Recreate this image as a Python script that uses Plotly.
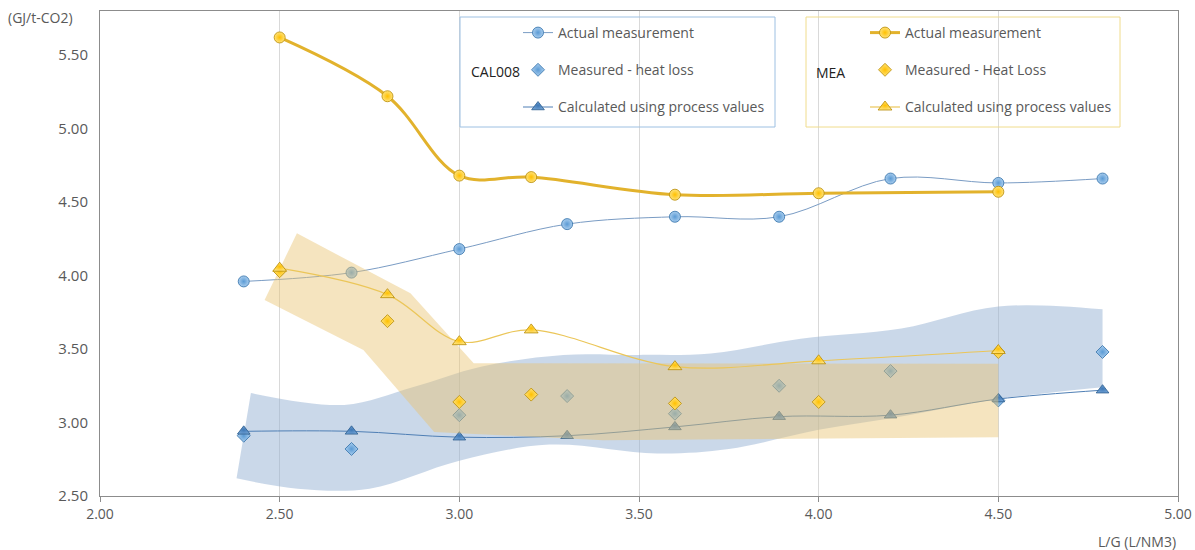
import plotly.graph_objects as go

# ---- CAL008 solvent ----
cal_lg = [2.40, 2.70, 3.00, 3.30, 3.60, 3.89, 4.20, 4.50, 4.79]
cal_actual = [3.96, 4.02, 4.18, 4.35, 4.40, 4.40, 4.66, 4.63, 4.66]
cal_heat_loss = [2.91, 2.82, 3.05, 3.18, 3.06, 3.25, 3.35, 3.15, 3.48]
cal_calculated = [2.94, 2.94, 2.90, 2.91, 2.97, 3.04, 3.05, 3.16, 3.22]

# CAL008 heat-loss spread (upper and lower edges)
cal_band_lo_x = [2.38, 2.55, 2.75, 3.00, 3.25, 3.55, 3.75, 4.00, 4.25, 4.50, 4.79]
cal_band_lo_y = [2.62, 2.55, 2.55, 2.74, 2.85, 2.79, 2.82, 2.95, 3.05, 3.16, 3.24]
cal_band_hi_x = [2.42, 2.68, 2.87, 3.06, 3.29, 3.50, 3.70, 3.95, 4.23, 4.50, 4.79]
cal_band_hi_y = [3.20, 3.12, 3.24, 3.38, 3.46, 3.46, 3.47, 3.57, 3.64, 3.79, 3.77]

# ---- MEA solvent ----
mea_lg = [2.50, 2.80, 3.00, 3.20, 3.60, 4.00, 4.50]
mea_actual = [5.62, 5.22, 4.68, 4.67, 4.55, 4.56, 4.57]
mea_heat_loss = [4.03, 3.69, 3.14, 3.19, 3.13, 3.14, 3.48]
mea_calculated = [4.05, 3.87, 3.55, 3.63, 3.38, 3.42, 3.49]

# MEA heat-loss spread (closed outline)
mea_band_x = [2.458, 2.548, 2.864, 3.040, 4.50, 4.50, 3.40, 2.93, 2.733, 2.458]
mea_band_y = [3.833, 4.287, 3.879, 3.403, 3.40, 2.90, 2.88, 2.935, 3.493, 3.833]

x_ticks = [2.0, 2.5, 3.0, 3.5, 4.0, 4.5, 5.0]
y_ticks = [2.5, 3.0, 3.5, 4.0, 4.5, 5.0, 5.5]

FONT = "Open Sans"
GREY = "#595959"

BLUE = "#5B9BD5"
BLUE_DARK = "#2F6EA8"
BLUE_LIGHT = "#A9CDEE"
GOLD = "#FFC000"
GOLD_DARK = "#B88A00"
GOLD_LIGHT = "#FFE27A"

fig = go.Figure()

# CAL008 band (drawn first, underneath everything)
fig.add_trace(go.Scatter(x=cal_band_lo_x, y=cal_band_lo_y, mode="lines",
                         line=dict(width=0, shape="spline", smoothing=1),
                         showlegend=False, hoverinfo="skip"))
fig.add_trace(go.Scatter(x=cal_band_hi_x, y=cal_band_hi_y, mode="lines",
                         line=dict(width=0, shape="spline", smoothing=1),
                         fill="tonexty", fillcolor="rgba(150,178,212,0.5)",
                         showlegend=False, hoverinfo="skip"))


def sphere(color, light, dark, symbol, size):
    return dict(symbol=symbol, size=size, color=light,
                gradient=dict(type="radial", color=color),
                line=dict(color=dark, width=0.8))


fig.add_trace(go.Scatter(
    x=cal_lg, y=cal_actual, mode="lines+markers", name="Actual measurement",
    line=dict(color="#7A9CC4", width=1, shape="spline", smoothing=1),
    marker=sphere(BLUE, BLUE_LIGHT, BLUE_DARK, "circle", 11),
    legend="legend", legendgroup="c1"))
fig.add_trace(go.Scatter(
    x=cal_lg, y=cal_heat_loss, mode="markers", name="Measured - heat loss",
    marker=sphere(BLUE, BLUE_LIGHT, BLUE_DARK, "diamond", 10),
    legend="legend", legendgroup="c2"))
fig.add_trace(go.Scatter(
    x=cal_lg, y=cal_calculated, mode="lines+markers",
    name="Calculated using process values",
    line=dict(color="#4F7FB5", width=1, shape="spline", smoothing=1),
    marker=sphere("#3F78B5", "#6D9FD3", "#2A5A8C", "triangle-up", 11),
    legend="legend", legendgroup="c3"))

# MEA band drawn over the CAL008 marks
fig.add_trace(go.Scatter(x=mea_band_x, y=mea_band_y, mode="lines",
                         line=dict(width=0), fill="toself",
                         fillcolor="rgba(232,196,112,0.45)",
                         showlegend=False, hoverinfo="skip"))

fig.add_trace(go.Scatter(
    x=mea_lg, y=mea_actual, mode="lines+markers", name="Actual measurement",
    line=dict(color="#E2B22C", width=3, shape="spline", smoothing=1),
    marker=sphere(GOLD, GOLD_LIGHT, GOLD_DARK, "circle", 11),
    legend="legend2", legendgroup="m1"))
fig.add_trace(go.Scatter(
    x=mea_lg, y=mea_heat_loss, mode="markers", name="Measured - Heat Loss",
    marker=sphere(GOLD, GOLD_LIGHT, GOLD_DARK, "diamond", 10),
    legend="legend2", legendgroup="m2"))
fig.add_trace(go.Scatter(
    x=mea_lg, y=mea_calculated, mode="lines+markers",
    name="Calculated using process values",
    line=dict(color="#EBC659", width=1.2, shape="spline", smoothing=1),
    marker=sphere(GOLD, GOLD_LIGHT, GOLD_DARK, "triangle-up", 12),
    legend="legend2", legendgroup="m3"))

# plot-area pixel geometry helpers (plot spans x 100..1178, y 11..496)
def px_x(p):
    return (p - 100) / 1078.0


def px_y(p):
    return (496 - p) / 485.0


legend_common = dict(
    bgcolor="rgba(0,0,0,0)", borderwidth=0,
    font=dict(family=FONT, size=14, color=GREY),
    tracegroupgap=16, yanchor="top", xanchor="left",
    itemwidth=30, traceorder="grouped",
)

fig.update_layout(
    width=1195, height=550,
    margin=dict(l=100, r=17, t=11, b=54),
    paper_bgcolor="white", plot_bgcolor="white",
    font=dict(family=FONT, size=14, color=GREY),
    showlegend=True,
    legend=dict(x=px_x(518), y=px_y(17), **legend_common),
    legend2=dict(x=px_x(865), y=px_y(17), **legend_common),
    xaxis=dict(range=[2.0, 5.0], tickvals=x_ticks, tickformat=".2f",
               automargin=False,
               showgrid=True, gridcolor="#D9D9D9", gridwidth=1,
               showline=True, linecolor="#8C8C8C", linewidth=1, mirror=True,
               ticks="outside", ticklen=5, tickcolor="#8C8C8C",
               zeroline=False, tickfont=dict(family=FONT, size=14, color=GREY)),
    yaxis=dict(range=[2.5, 5.8], tickvals=y_ticks, tickformat=".2f",
               automargin=False,
               showgrid=False, showline=True, linecolor="#8C8C8C", linewidth=1,
               mirror=True, ticks="", zeroline=False, ticklabelstandoff=8,
               tickfont=dict(family=FONT, size=15, color=GREY)),
    shapes=[
        dict(type="rect", xref="paper", yref="paper",
             x0=px_x(460), x1=px_x(775), y0=px_y(127), y1=px_y(17),
             line=dict(color="#9DC0E2", width=1), fillcolor="rgba(0,0,0,0)"),
        dict(type="rect", xref="paper", yref="paper",
             x0=px_x(806), x1=px_x(1120), y0=px_y(127), y1=px_y(17),
             line=dict(color="#F0DC8C", width=1), fillcolor="rgba(0,0,0,0)"),
    ],
    annotations=[
        dict(text="CAL008", xref="paper", yref="paper", x=px_x(469), y=px_y(71),
             xanchor="left", yanchor="middle", showarrow=False,
             font=dict(family=FONT, size=14, color="#222222")),
        dict(text="MEA", xref="paper", yref="paper", x=px_x(814), y=px_y(72),
             xanchor="left", yanchor="middle", showarrow=False,
             font=dict(family=FONT, size=14, color="#222222")),
        dict(text="(GJ/t-CO2)", xref="paper", yref="paper", x=px_x(6), y=px_y(18),
             xanchor="left", yanchor="middle", showarrow=False,
             font=dict(family=FONT, size=14, color=GREY)),
        dict(text="L/G (L/NM3)", xref="paper", yref="paper", x=1.0, y=px_y(541),
             xanchor="right", yanchor="middle", showarrow=False,
             font=dict(family=FONT, size=14, color=GREY)),
    ],
)

fig.write_html("out.html")
